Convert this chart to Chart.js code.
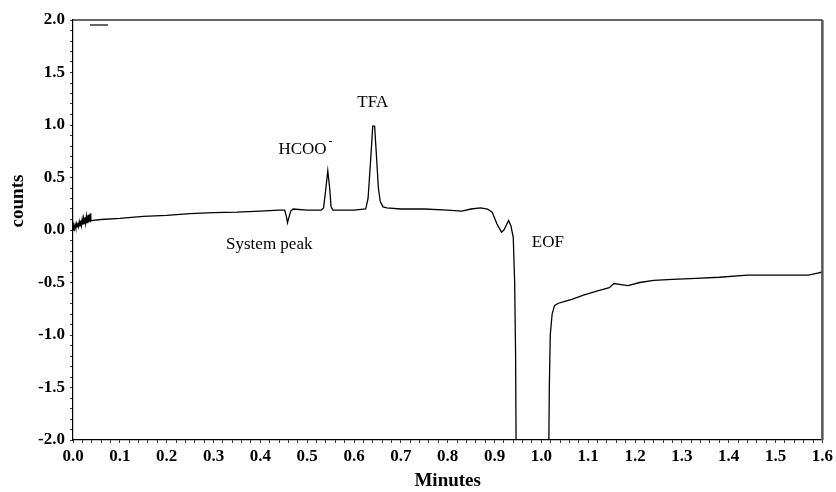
<!DOCTYPE html>
<html>
<head>
<meta charset="utf-8">
<script src="https://cdn.jsdelivr.net/npm/chart.js@4/dist/chart.umd.min.js"></script>
<style>
  html, body { margin: 0; padding: 0; background: #fff; }
  #wrap { width: 836px; height: 492px; }
</style>
</head>
<body>
<div id="wrap"><canvas id="c" width="836" height="492"></canvas></div>
<script>
// ---- data ----
const minutes = [
  0.000, 0.0015, 0.003, 0.0045, 0.006, 0.0075, 0.009, 0.0105, 0.012, 0.0135, 0.015, 0.0165, 0.018, 0.0195,
  0.021, 0.0225, 0.024, 0.0255, 0.027, 0.0285, 0.030, 0.0315, 0.033, 0.0345, 0.036, 0.0375, 0.038, 0.039,
  0.060, 0.100, 0.150, 0.200, 0.250, 0.300, 0.350, 0.400, 0.440, 0.452, 0.456, 0.458, 0.461, 0.465, 0.470,
  0.500, 0.530, 0.535, 0.540, 0.544, 0.548, 0.551, 0.555, 0.600, 0.625, 0.630, 0.636, 0.640, 0.644, 0.648,
  0.652, 0.656, 0.662, 0.670, 0.700, 0.750, 0.800, 0.830, 0.850, 0.870, 0.885, 0.895, 0.905, 0.915, 0.920,
  0.930, 0.935, 0.940, 0.943, 0.945, 0.946, 1.016, 1.017, 1.019, 1.023, 1.028, 1.035, 1.050, 1.065, 1.090,
  1.120, 1.145, 1.155, 1.170, 1.185, 1.210, 1.240, 1.280, 1.330, 1.380, 1.440, 1.500, 1.545, 1.570, 1.590, 1.600
];
const counts = [
  0.00, 0.04, 0.01, 0.05, 0.02, 0.06, 0.03, 0.07, 0.035, 0.08, 0.04, 0.09, 0.045, 0.10,
  0.05, 0.11, 0.06, 0.12, 0.065, 0.13, 0.07, 0.14, 0.075, 0.15, 0.08, 0.16, 0.085, 0.09,
  0.10, 0.11, 0.13, 0.14, 0.155, 0.165, 0.17, 0.18, 0.19, 0.19, 0.12, 0.07, 0.12, 0.18, 0.20,
  0.19, 0.19, 0.21, 0.40, 0.565, 0.40, 0.22, 0.19, 0.19, 0.20, 0.30, 0.70, 0.99, 0.99, 0.70,
  0.40, 0.27, 0.22, 0.21, 0.20, 0.20, 0.19, 0.18, 0.20, 0.21, 0.20, 0.17, 0.06, -0.02, 0.00,
  0.09, 0.04, -0.07, -0.50, -1.20, -2.00, -2.00, -1.50, -1.00, -0.80, -0.72, -0.70, -0.68, -0.66, -0.62,
  -0.58, -0.55, -0.51, -0.52, -0.53, -0.50, -0.48, -0.47, -0.46, -0.45, -0.43, -0.43, -0.43, -0.43, -0.41, -0.40
];
const xTickLabels = ['0.0','0.1','0.2','0.3','0.4','0.5','0.6','0.7','0.8','0.9','1.0','1.1','1.2','1.3','1.4','1.5','1.6'];
const yTickLabels = ['-2.0','-1.5','-1.0','-0.5','0.0','0.5','1.0','1.5','2.0'];
const peakLabels = ['TFA', 'HCOO', 'System peak', 'EOF'];
const peakLabelAt = [[0.640, 1.21], [0.490, 0.77], [0.419, -0.14], [1.014, -0.12]];
const xTitle = 'Minutes';
const yTitle = 'counts';

const points = minutes.map((m, i) => ({ x: m, y: counts[i] }));

const serif = '"Liberation Serif", "Times New Roman", serif';

const decor = {
  id: 'decor',
  afterDraw(chart) {
    const { ctx, chartArea: a, scales: { x, y } } = chart;
    ctx.save();
    // frame top and right
    ctx.strokeStyle = '#333';
    ctx.lineWidth = 1.5;
    ctx.beginPath();
    ctx.moveTo(a.left, a.top);
    ctx.lineTo(a.right, a.top);
    ctx.stroke();
    ctx.strokeStyle = '#555';
    ctx.lineWidth = 2.5;
    ctx.beginPath();
    ctx.moveTo(a.right, a.top);
    ctx.lineTo(a.right, a.bottom);
    ctx.stroke();
    // small legend dash
    ctx.strokeStyle = '#000';
    ctx.lineWidth = 1.2;
    ctx.beginPath();
    ctx.moveTo(a.left + 17, a.top + 5);
    ctx.lineTo(a.left + 35, a.top + 5);
    ctx.stroke();
    // peak labels
    ctx.fillStyle = '#000';
    ctx.font = '17px ' + serif;
    ctx.textAlign = 'center';
    ctx.textBaseline = 'middle';
    peakLabels.forEach((t, i) => {
      const px = x.getPixelForValue(peakLabelAt[i][0]);
      const py = y.getPixelForValue(peakLabelAt[i][1]);
      ctx.fillText(t, px, py);
      if (t === 'HCOO') {
        const w = ctx.measureText(t).width;
        ctx.font = '12px ' + serif;
        ctx.fillText('-', px + w / 2 + 4, py - 7);
        ctx.font = '17px ' + serif;
      }
    });
    // y title
    ctx.font = 'bold 19px ' + serif;
    ctx.translate(18, 201);
    ctx.rotate(-Math.PI / 2);
    ctx.fillText(yTitle, 0, 0);
    ctx.restore();
  }
};

new Chart(document.getElementById('c'), {
  type: 'line',
  data: {
    datasets: [{
      data: points,
      borderColor: '#000',
      borderWidth: 1.3,
      pointRadius: 0,
      tension: 0,
      fill: false
    }]
  },
  options: {
    responsive: false,
    animation: false,
    parsing: true,
    layout: { padding: { top: 20, right: 10, left: 0, bottom: 0 } },
    plugins: { legend: { display: false }, tooltip: { enabled: false } },
    scales: {
      x: {
        type: 'linear',
        min: 0, max: 1.6,
        afterFit(s) { s.height = 52; },
        border: { display: true, color: '#000', width: 1.2 },
        grid: { display: true, drawOnChartArea: false, tickLength: 3, color: '#333' },
        ticks: {
          stepSize: 0.02,
          autoSkip: false,
          maxRotation: 0,
          padding: 3,
          color: '#000',
          font: { family: serif, size: 17, weight: 'bold' },
          callback(v) {
            const k = Math.round(v * 50);
            return k % 5 === 0 ? xTickLabels[k / 5] : '';
          }
        },
        title: {
          display: true, text: xTitle, color: '#000', padding: { top: 0, bottom: 0 },
          font: { family: serif, size: 19, weight: 'bold' }
        }
      },
      y: {
        type: 'linear',
        min: -2, max: 2,
        afterFit(s) { s.width = 73; },
        border: { display: true, color: '#000', width: 1.2 },
        grid: { display: true, drawOnChartArea: false, tickLength: 3, color: '#333' },
        ticks: {
          stepSize: 0.1,
          autoSkip: false,
          padding: 5,
          color: '#000',
          font: { family: serif, size: 17, weight: 'bold' },
          callback(v) {
            const k = Math.round(v * 10);
            return k % 5 === 0 ? yTickLabels[(k + 20) / 5] : '';
          }
        }
      }
    }
  },
  plugins: [decor]
});
</script>
</body>
</html>
